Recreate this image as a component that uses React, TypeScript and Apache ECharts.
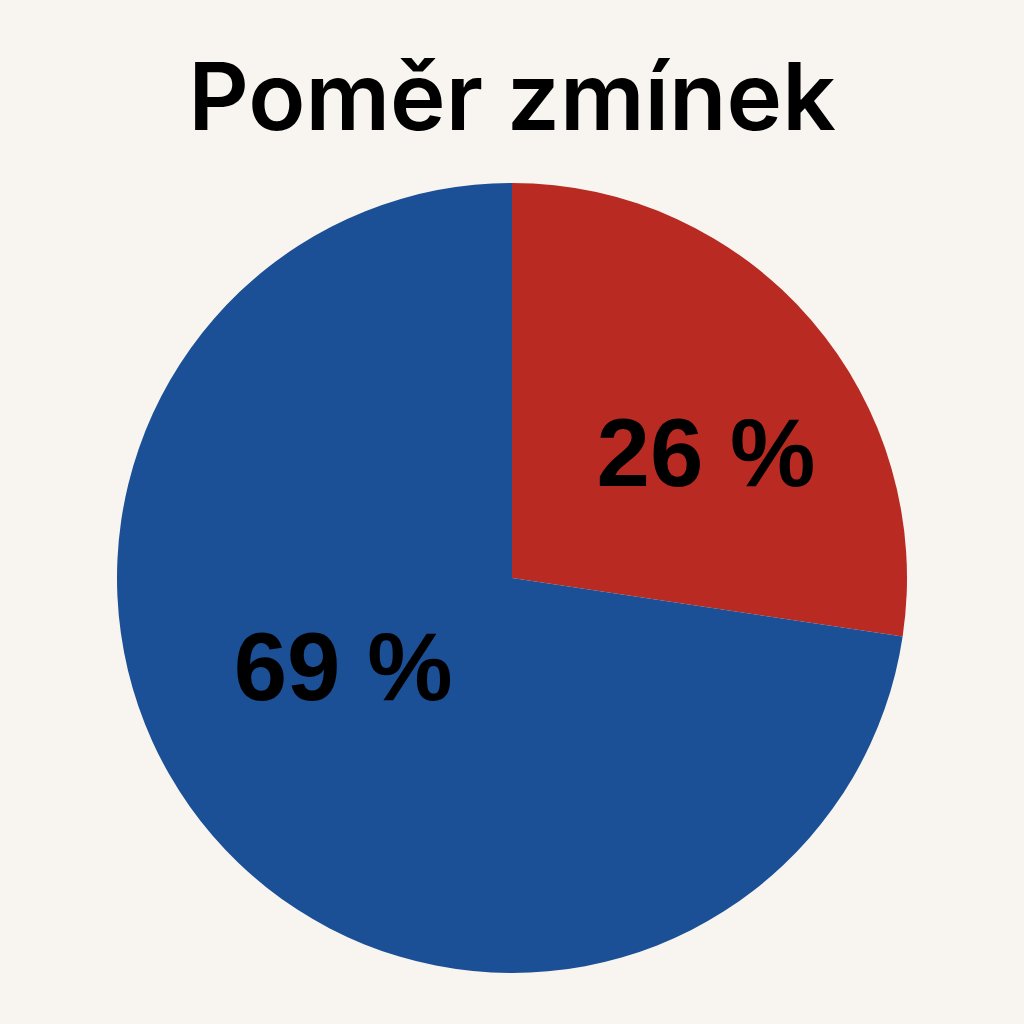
import React, { useEffect, useRef } from 'react';
import * as echarts from 'echarts';

const categories = ['Zmínky A', 'Zmínky B'];
const values = [26, 69];
const colors = ['#b82a22', '#1b4f96'];
const labelOffsets = [[42, 5], [-17, -42]];

export default function App() {
  const ref = useRef<HTMLDivElement | null>(null);

  useEffect(() => {
    if (!ref.current) return;
    const chart = echarts.init(ref.current, null, { renderer: 'svg' });
    chart.setOption({
      animation: false,
      backgroundColor: '#f8f5f0',
      title: {
        text: 'Poměr zmínek',
        left: 'center',
        top: 44,
        textStyle: { fontSize: 94, fontWeight: 600, color: '#000', fontFamily: 'Inter, Liberation Sans, sans-serif' }
      },
      series: [{
        type: 'pie',
        center: [512, 578],
        radius: [0, 395],
        startAngle: 90,
        clockwise: true,
        data: categories.map((c, i) => ({
          name: c,
          value: values[i],
          itemStyle: { color: colors[i] },
          label: { offset: labelOffsets[i] }
        })),
        label: {
          show: true,
          position: 'inside',
          formatter: (p: any) => p.value + ' %',
          fontSize: 96,
          fontWeight: 'bold',
          color: '#000',
          fontFamily: 'Liberation Sans, Arial, sans-serif'
        },
        labelLine: { show: false },
        itemStyle: { borderWidth: 0 },
        emphasis: { disabled: true }
      }]
    });
    return () => chart.dispose();
  }, []);

  return <div ref={ref} style={{ position: 'fixed', left: 0, top: 0, width: 1024, height: 1024 }} />;
}
